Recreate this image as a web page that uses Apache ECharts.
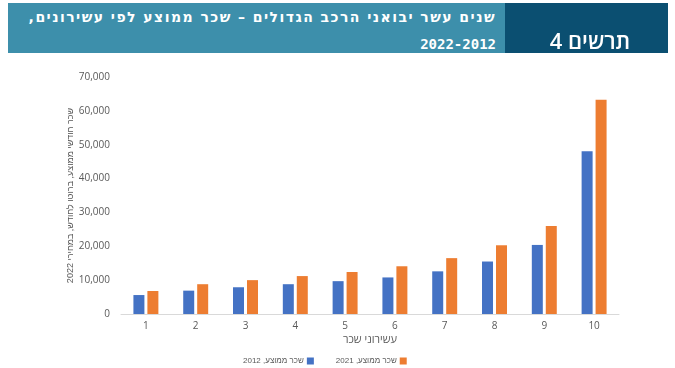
<!DOCTYPE html>
<html>
<head>
<meta charset="utf-8">
<script src="https://cdn.jsdelivr.net/npm/echarts@6/dist/echarts.min.js"></script>
<style>
html,body{margin:0;padding:0;background:#fff;}
#wrap{position:relative;width:675px;height:368px;}
#c{position:absolute;left:0;top:0;width:675px;height:368px;}
#hdrL{position:absolute;left:8px;top:3px;width:497px;height:50px;background:#3d8fab;}
#hdrR{position:absolute;left:505px;top:3px;width:163px;height:50px;background:#0b4f71;}
.t{position:absolute;color:#fff;font-weight:bold;white-space:nowrap;direction:rtl;}
#t1{right:179px;top:9px;font:bold 14px "DejaVu Sans";letter-spacing:1.45px;}
#t2{right:179px;top:36px;font:bold 14px "DejaVu Sans Mono";}
#t3{left:505px;width:170px;top:26px;text-align:center;font:600 22px "Open Sans";line-height:28px;}
</style>
</head>
<body>
<div id="wrap">
<div id="c"></div>
<div id="hdrL"></div>
<div id="hdrR"></div>
<div class="t" id="t1"></div>
<div class="t" id="t2"></div>
<div class="t" id="t3"></div>
</div>
<script>
const categories = ['1','2','3','4','5','6','7','8','9','10'];
const seriesNames = ['שכר ממוצע, 2012', 'שכר ממוצע, 2021'];
const wage2012 = [5600, 6900, 7900, 8800, 9700, 10800, 12600, 15500, 20400, 48100];
const wage2021 = [6800, 8800, 10000, 11200, 12400, 14100, 16500, 20300, 26000, 63300];
const titleLine1 = 'שנים עשר יבואני הרכב הגדולים – שכר ממוצע לפי עשירונים,';
const titleLine2 = '2022-2012';
const chartLabel = 'תרשים 4';
const xName = 'עשירוני שכר';
const yName = 'שכר חודשי ממוצע, ברוטו לחודש, במחירי 2022';

document.getElementById('t1').textContent = titleLine1;
document.getElementById('t2').textContent = titleLine2;
document.getElementById('t3').textContent = chartLabel;

const chart = echarts.init(document.getElementById('c'), null, {renderer:'canvas'});
const gray = '#595959';
chart.setOption({
  animation:false,
  backgroundColor:'#ffffff',
  legend:{
    data:seriesNames,
    left:238, top:352,
    itemWidth:7, itemHeight:7, itemGap:22,
    align:'right',
    icon:'rect',
    textStyle:{color:gray, fontSize:8, fontFamily:'Liberation Sans', padding:[0,-2,0,0]}
  },
  grid:{left:121, top:77, width:498, height:237},
  xAxis:{
    type:'category', data:categories,
    name:xName, nameLocation:'middle', nameGap:20, nameMoveOverlap:false,
    nameTextStyle:{color:gray, fontSize:11, fontFamily:'Open Sans'},
    axisLine:{lineStyle:{color:'#d9d9d9'}},
    axisTick:{show:false},
    axisLabel:{color:gray, fontSize:10, margin:7, fontFamily:'Open Sans'}
  },
  yAxis:{
    type:'value', min:0, max:70000, interval:10000,
    name:yName, nameLocation:'middle', nameGap:46, nameRotate:90, nameMoveOverlap:false,
    nameTextStyle:{color:gray, fontSize:9, fontFamily:'Liberation Sans'},
    axisLine:{show:false}, axisTick:{show:false},
    splitLine:{show:false},
    axisLabel:{color:gray, fontSize:10, margin:11, fontFamily:'Open Sans',
      formatter:v=>v.toLocaleString('en-US')}
  },
  series:[
    {name:seriesNames[0], type:'bar', data:wage2012, barWidth:11, barGap:'27%', itemStyle:{color:'#4472c4'}},
    {name:seriesNames[1], type:'bar', data:wage2021, barWidth:11, barGap:'27%', itemStyle:{color:'#ed7d31'}}
  ]
});
</script>
</body>
</html>
